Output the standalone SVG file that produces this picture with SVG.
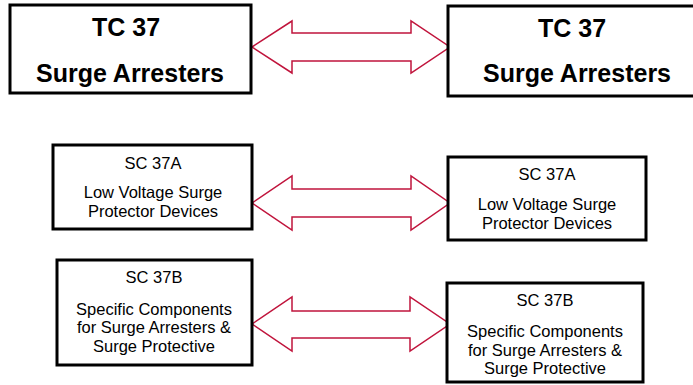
<svg xmlns="http://www.w3.org/2000/svg" width="693" height="385" viewBox="0 0 693 385">
<style>
.box{fill:#fff;stroke:#000;stroke-width:3}
.big{font-family:"Liberation Sans",Arial,sans-serif;font-weight:bold;font-size:25px;fill:#000;text-anchor:middle}
.sm{font-family:"Liberation Sans",Arial,sans-serif;font-size:16.5px;fill:#000;text-anchor:middle}
.arr{fill:#fff;stroke:#c0143c;stroke-width:1.5;stroke-linejoin:miter}
</style>
<rect width="693" height="385" fill="#fff"/>
<g id="connectors">
<polygon class="arr" points="252,47 292,21 292,33 411,33 411,21 450,47 411,73 411,61 292,61 292,73"/>
<polygon class="arr" points="252,203 292,176 292,189 411,189 411,176 450,203 411,230 411,217 292,217 292,230"/>
<polygon class="arr" points="252,324 292,297 292,311 410,311 410,297 450,324 410,351 410,338 292,338 292,351"/>
</g>
<g id="tc37-left">
<rect class="box" x="10" y="5" width="241" height="88"/>
<text class="big" x="126" y="36">TC 37</text>
<text class="big" x="130" y="82">Surge Arresters</text>
</g>
<g id="tc37-right">
<rect class="box" x="448" y="6" width="260" height="90"/>
<text class="big" x="572" y="37">TC 37</text>
<text class="big" x="577" y="82">Surge Arresters</text>
</g>
<g id="sc37a-left">
<rect class="box" x="53" y="145" width="199" height="84"/>
<text class="sm" x="153" y="169">SC 37A</text>
<text class="sm" x="153" y="198">Low Voltage Surge</text>
<text class="sm" x="153" y="217">Protector Devices</text>
</g>
<g id="sc37a-right">
<rect class="box" x="448" y="157" width="198" height="83"/>
<text class="sm" x="547" y="180">SC 37A</text>
<text class="sm" x="547" y="210">Low Voltage Surge</text>
<text class="sm" x="547" y="229">Protector Devices</text>
</g>
<g id="sc37b-left">
<rect class="box" x="57" y="260" width="195" height="105"/>
<text class="sm" x="154" y="283">SC 37B</text>
<text class="sm" x="154" y="315">Specific Components</text>
<text class="sm" x="154" y="333">for Surge Arresters &amp;</text>
<text class="sm" x="154" y="352">Surge Protective</text>
</g>
<g id="sc37b-right">
<rect class="box" x="447" y="283" width="196" height="99"/>
<text class="sm" x="545" y="306">SC 37B</text>
<text class="sm" x="545" y="337">Specific Components</text>
<text class="sm" x="545" y="356">for Surge Arresters &amp;</text>
<text class="sm" x="545" y="374">Surge Protective</text>
</g>
</svg>
